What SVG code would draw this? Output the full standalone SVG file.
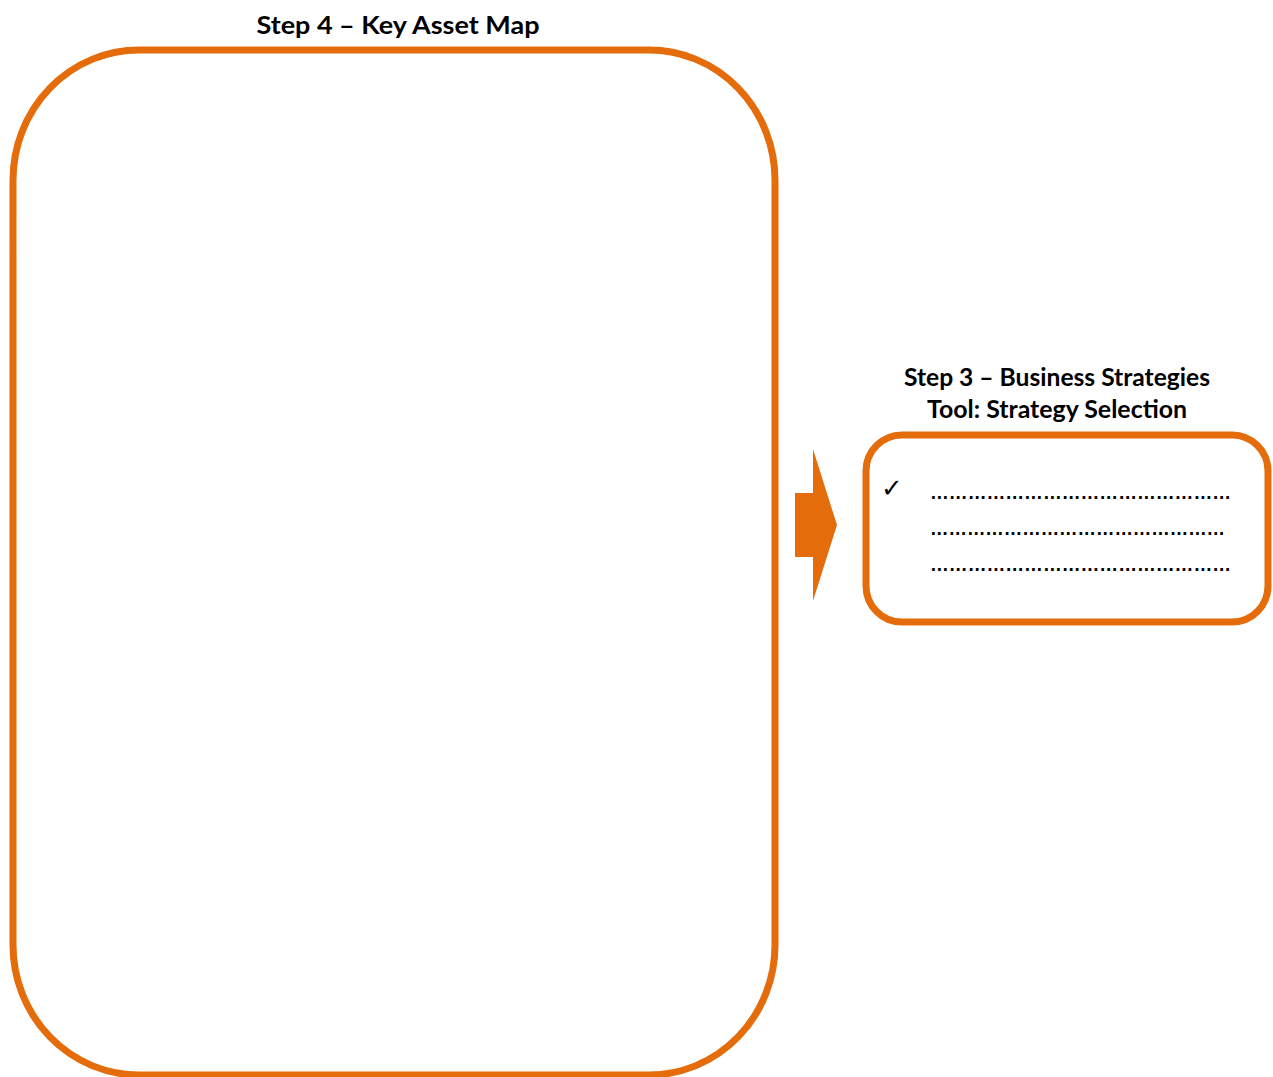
<svg xmlns="http://www.w3.org/2000/svg" width="1273" height="1077" viewBox="0 0 1273 1077">
<style>
.box{fill:none;stroke:#E46C0A;stroke-width:7}
.title{font-family:Lato,"Liberation Sans",sans-serif;font-weight:bold;font-size:24px;fill:#000;text-anchor:middle}
.dots{font-family:"Liberation Sans",sans-serif;font-weight:bold;font-size:20px;fill:#000}
</style>
<rect width="1273" height="1077" fill="#fff"/>
<g id="key-asset-map">
<text class="title" x="398" y="34" textLength="283" lengthAdjust="spacingAndGlyphs">Step 4 – Key Asset Map</text>
<rect class="box" x="13" y="50" width="762" height="1025" rx="126" ry="130"/>
</g>
<g id="connectors">
<path d="M795 493 H813 V449 L837 525 L813 601 V557 H795 Z" fill="#E46C0A"/>
</g>
<g id="business-strategies">
<text class="title" x="1057" y="386" textLength="306" lengthAdjust="spacingAndGlyphs">Step 3 – Business Strategies</text>
<text class="title" x="1057" y="418" textLength="260" lengthAdjust="spacingAndGlyphs">Tool: Strategy Selection</text>
<rect class="box" x="866" y="435" width="402" height="187" rx="36" ry="36"/>
<text x="881" y="497" font-family="'DejaVu Sans',sans-serif" font-size="26" fill="#000">✓</text>
<text class="dots" x="930" y="499" textLength="301" lengthAdjust="spacingAndGlyphs">…………………………………………</text>
<text class="dots" x="930" y="535" textLength="295" lengthAdjust="spacingAndGlyphs">…………………………………………</text>
<text class="dots" x="930" y="571" textLength="301" lengthAdjust="spacingAndGlyphs">…………………………………………</text>
</g>
</svg>
